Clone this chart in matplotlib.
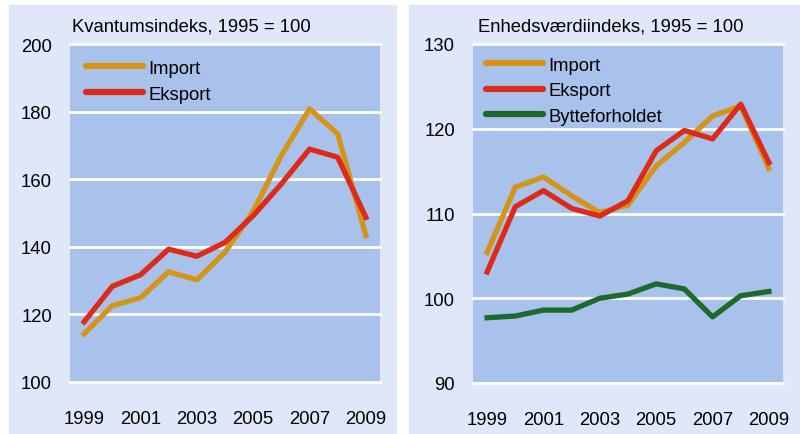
import matplotlib
matplotlib.use('Agg')
import matplotlib.pyplot as plt
from matplotlib.patches import Rectangle

years = list(range(1999, 2010))

# Kvantumsindeks
kv_import = [114.2, 122.6, 124.9, 132.6, 130.2, 138.4, 150.5, 167.0, 180.8, 173.4, 143.3]
kv_eksport = [117.8, 128.3, 131.7, 139.3, 137.2, 141.3, 149.2, 158.6, 168.9, 166.5, 148.7]

# Enhedsværdiindeks
ev_import = [105.4, 113.1, 114.3, 112.1, 110.1, 111.0, 115.6, 118.4, 121.5, 122.7, 115.3]
ev_eksport = [103.1, 110.8, 112.7, 110.6, 109.7, 111.5, 117.4, 119.8, 118.8, 122.9, 116.0]
ev_bytte = [97.7, 97.9, 98.6, 98.6, 100.0, 100.5, 101.7, 101.1, 97.8, 100.3, 100.8]

xticks = [1999, 2001, 2003, 2005, 2007, 2009]

c_import = '#d49418'
c_eksport = '#dc2b18'
c_bytte = '#1e6a2c'
panel_bg = '#dfe7f8'
plot_bg = '#a8c2eb'

fs = 13.3
plt.rcParams['font.family'] = ['Liberation Sans', 'DejaVu Sans']
plt.rcParams['font.size'] = fs

fig = plt.figure(figsize=(8, 4.35), dpi=100)
W, H = 800, 435

# panel backgrounds
fig.patches.append(Rectangle((9 / W, 0), (396 - 9) / W, 1 - 6 / H,
                             transform=fig.transFigure, color=panel_bg, zorder=-10))
fig.patches.append(Rectangle((409 / W, 0), (800 - 409) / W, 1 - 6 / H,
                             transform=fig.transFigure, color=panel_bg, zorder=-10))

ax1 = fig.add_axes([70 / W, 1 - 383 / H, 310 / W, 338 / H])
ax2 = fig.add_axes([473 / W, 1 - 384 / H, 310 / W, 339 / H])


def style(ax, ylim, yticks):
    ax.set_facecolor(plot_bg)
    ax.set_xlim(1998.5, 2009.5)
    ax.set_ylim(*ylim)
    ax.set_yticks(yticks)
    ax.set_xticks(xticks)
    for s in ax.spines.values():
        s.set_visible(False)
    ax.tick_params(length=0)
    ax.tick_params(axis='y', pad=13)
    ax.tick_params(axis='x', pad=20)
    for y in yticks:
        ax.axhline(y, color='white', lw=2, zorder=1, clip_on=False)


lw = 3.8
style(ax1, (100, 200), [100, 120, 140, 160, 180, 200])
ax1.plot(years, kv_import, color=c_import, lw=lw, label='Import', zorder=3)
ax1.plot(years, kv_eksport, color=c_eksport, lw=lw, label='Eksport', zorder=3)
ax1.legend(loc='upper left', bbox_to_anchor=(0.0, 1.0), frameon=False,
           handlelength=3.1, handletextpad=0.3, labelspacing=0.5,
           borderaxespad=0.45, fontsize=fs)
fig.text(72 / W, 1 - 32 / H, 'Kvantumsindeks, 1995 = 100', fontsize=fs)

style(ax2, (90, 130), [90, 100, 110, 120, 130])
ax2.plot(years, ev_import, color=c_import, lw=lw, label='Import', zorder=3)
ax2.plot(years, ev_eksport, color=c_eksport, lw=lw, label='Eksport', zorder=3)
ax2.plot(years, ev_bytte, color=c_bytte, lw=lw, label='Bytteforholdet', zorder=3)
ax2.legend(loc='upper left', bbox_to_anchor=(0.0, 1.0), frameon=False,
           handlelength=3.1, handletextpad=0.3, labelspacing=0.45,
           borderaxespad=0.3, fontsize=fs)
fig.text(478 / W, 1 - 32 / H, 'Enhedsværdiindeks, 1995 = 100', fontsize=fs)

for ax in (ax1, ax2):
    for leg_line in ax.get_legend().get_lines():
        leg_line.set_linewidth(4.5)
        leg_line.set_solid_capstyle('round')

fig.savefig('out.png', dpi=100)
